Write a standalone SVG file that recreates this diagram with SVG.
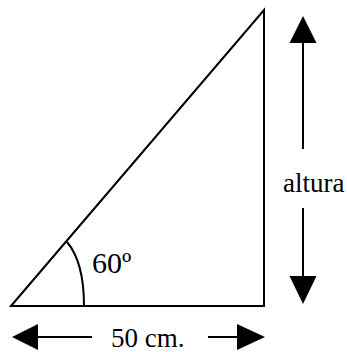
<svg xmlns="http://www.w3.org/2000/svg" width="347" height="352" viewBox="0 0 347 352">
<style>
.ln{fill:none;stroke:#000;stroke-width:2}
.hd{fill:#000;stroke:none}
text{font-family:"Liberation Serif","Times New Roman",serif;fill:#000}
</style>
<rect width="347" height="352" fill="#fff"/>
<g id="triangle">
<path class="ln" d="M11,306 L264,10 L264,306 Z"/>
<path class="ln" d="M67,242 Q84,262 84,306"/>
<text x="92" y="273" font-size="30">60º</text>
</g>
<g id="connectors">
<line class="ln" x1="303" y1="42" x2="303" y2="149"/>
<polygon class="hd" points="303,16 289.5,43 316.5,43"/>
<line class="ln" x1="303" y1="208" x2="303" y2="277"/>
<polygon class="hd" points="303,304 289.5,276 316.5,276"/>
<line class="ln" x1="37" y1="337" x2="92" y2="337"/>
<polygon class="hd" points="12,337 38,324 38,350"/>
<line class="ln" x1="208" y1="337" x2="238" y2="337"/>
<polygon class="hd" points="265,337 237,324 237,350"/>
</g>
<g id="labels">
<text x="283" y="192" font-size="27">altura</text>
<text x="111" y="347" font-size="27">50 cm.</text>
</g>
</svg>
